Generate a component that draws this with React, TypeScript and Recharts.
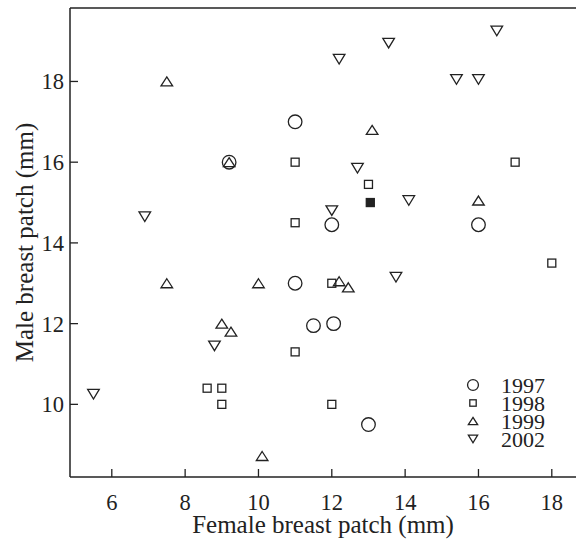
import React from 'react';
import { ScatterChart, Scatter, XAxis, YAxis, Legend, ReferenceLine } from 'recharts';

// female / male breast patch (mm) per year
const female1997 = [11, 9.2, 12, 16, 11, 11.5, 12.05, 13];
const male1997 = [17, 16, 14.45, 14.45, 13, 11.95, 12, 9.5];

const female1998 = [11, 11, 17, 13, 11, 8.6, 9, 9, 18, 12, 12];
const male1998 = [16, 14.5, 16, 15.45, 11.3, 10.4, 10.4, 10, 13.5, 13, 10];

const femaleFilled = [13.05];
const maleFilled = [15];

const female1999 = [7.5, 9.2, 13.1, 16, 7.5, 10, 9, 9.25, 10.1, 12.2, 12.45];
const male1999 = [18, 16, 16.8, 15.05, 13, 13, 12, 11.8, 8.72, 13.05, 12.9];

const female2002 = [6.9, 16.5, 13.55, 12.2, 15.4, 16, 12.7, 14.1, 12, 8.8, 5.5, 13.75];
const male2002 = [14.65, 19.25, 18.95, 18.55, 18.05, 18.05, 15.85, 15.05, 14.8, 11.45, 10.25, 13.15];

const xTicks = [6, 8, 10, 12, 14, 16, 18];
const yTicks = [10, 12, 14, 16, 18];
const years = ['1997', '1998', '1999', '2002'];

const toPoints = (xs: number[], ys: number[]) => xs.map((x, i) => ({ x, y: ys[i] }));

const INK = '#222';
const FONT = 'Liberation Serif, DejaVu Serif, serif';

const Marker = ({ kind, cx, cy, scale = 1, filled = false }: any) => {
  const common = { stroke: INK, strokeWidth: 1.3, fill: filled ? INK : 'none' };
  if (kind === 'circle') return <circle cx={cx} cy={cy} r={6.8 * scale} {...common} />;
  if (kind === 'square') {
    const s = 4 * scale;
    return <rect x={cx - s} y={cy - s} width={2 * s} height={2 * s} {...common} />;
  }
  if (kind === 'up') {
    const w = 5.8 * scale, h = 4.5 * scale;
    return <path d={`M${cx},${cy - h}L${cx + w},${cy + h}L${cx - w},${cy + h}Z`} {...common} />;
  }
  const w = 5.8 * scale, h = 4.8 * scale;
  return <path d={`M${cx - w},${cy - h}L${cx + w},${cy - h}L${cx},${cy + h}Z`} {...common} />;
};

const kinds = ['circle', 'square', 'up', 'down'];

const LegendBox = () => (
  <svg width={110} height={80} style={{ display: 'block' }}>
    {years.map((yr, i) => (
      <g key={yr}>
        <Marker kind={kinds[i]} cx={13} cy={11 + i * 18} scale={0.8} />
        <text x={41} y={18.5 + i * 18} style={{ fontFamily: FONT, fontSize: 22 }} fill={INK}>{yr}</text>
      </g>
    ))}
  </svg>
);

const tickStyle = { fill: INK, fontSize: 22.5, fontFamily: FONT };

const App: React.FC = () => {
  return (
    <div style={{ fontFamily: FONT }}>
      <style>{'body{margin:0}'}</style>
      <ScatterChart width={576} height={542} margin={{ top: 8, right: 0, bottom: 0, left: 0 }}>
        <XAxis
          type="number"
          dataKey="x"
          domain={[4.86, 18.66]}
          ticks={xTicks}
          allowDataOverflow
          height={65}
          tickSize={-8}
          tickMargin={25}
          axisLine={{ stroke: INK, strokeWidth: 1.5 }}
          tickLine={{ stroke: INK, strokeWidth: 1.3 }}
          tick={tickStyle}
          label={{ value: 'Female breast patch (mm)', position: 'insideBottom', offset: 9, fill: INK, fontSize: 25, fontFamily: FONT }}
        />
        <YAxis
          type="number"
          dataKey="y"
          domain={[8.2, 19.82]}
          ticks={yTicks}
          allowDataOverflow
          width={70}
          tickSize={-8}
          tickMargin={14}
          axisLine={{ stroke: INK, strokeWidth: 1.5 }}
          tickLine={{ stroke: INK, strokeWidth: 1.3 }}
          tick={tickStyle}
          label={{ value: 'Male breast patch (mm)', angle: -90, position: 'insideLeft', offset: 24, fill: INK, fontSize: 25, fontFamily: FONT, style: { textAnchor: 'middle' } }}
        />
        <ReferenceLine y={19.82} stroke={INK} strokeWidth={1.5} />
        <Scatter name="1997" data={toPoints(female1997, male1997)} isAnimationActive={false}
          shape={(p: any) => <Marker kind="circle" cx={p.cx} cy={p.cy} />} />
        <Scatter name="1998" data={toPoints(female1998, male1998)} isAnimationActive={false}
          shape={(p: any) => <Marker kind="square" cx={p.cx} cy={p.cy} />} />
        <Scatter name="1998 filled" data={toPoints(femaleFilled, maleFilled)} isAnimationActive={false} legendType="none"
          shape={(p: any) => <Marker kind="square" cx={p.cx} cy={p.cy} filled />} />
        <Scatter name="1999" data={toPoints(female1999, male1999)} isAnimationActive={false}
          shape={(p: any) => <Marker kind="up" cx={p.cx} cy={p.cy} />} />
        <Scatter name="2002" data={toPoints(female2002, male2002)} isAnimationActive={false}
          shape={(p: any) => <Marker kind="down" cx={p.cx} cy={p.cy} />} />
        <Legend
          layout="vertical"
          align="center"
          verticalAlign="middle"
          content={() => <LegendBox />}
          wrapperStyle={{ left: 460, top: 374, width: 110 }}
        />
      </ScatterChart>
    </div>
  );
};

export default App;
